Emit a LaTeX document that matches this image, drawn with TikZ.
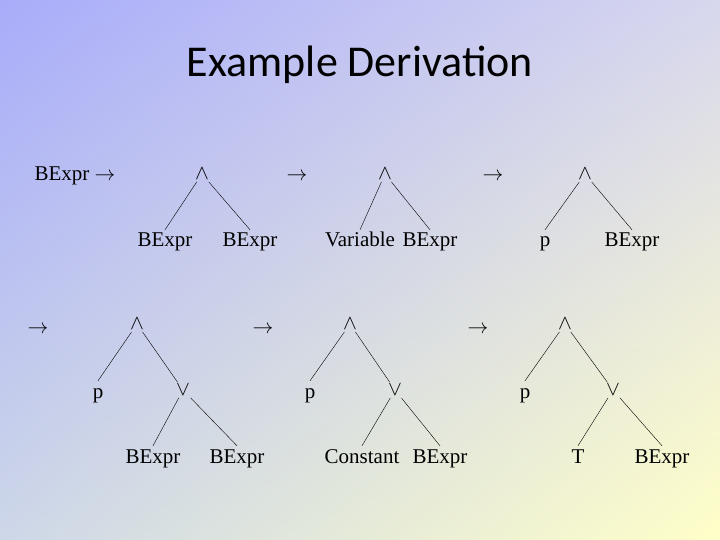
\documentclass[tikz,border=0pt]{standalone}
\usepackage{fontspec}
\setmainfont{Liberation Serif}
\newfontfamily\titlefont{Carlito}
\usepackage{tikz}
\usetikzlibrary{shadings}

\definecolor{bgtl}{RGB}{168,172,250}
\definecolor{bgtr}{RGB}{215,215,238}
\definecolor{bgbl}{RGB}{205,215,232}
\definecolor{bgbr}{RGB}{255,255,200}

\tikzset{
  sym/.style={font=\fontsize{21}{24}\selectfont, inner sep=3pt, text height=14pt, text depth=4pt},
  op/.style={font=\fontsize{21}{24}\selectfont, inner sep=2pt}
}

\begin{document}
\begin{tikzpicture}[x=1pt,y=-1pt]

	\shade[upper left=bgtl, upper right=bgtr, lower left=bgbl, lower right=bgbr] (0,0) rectangle (720,540);
	\useasboundingbox (0,0) rectangle (720,540);

	\node[font=\titlefont\fontsize{44}{48}\selectfont] (title) at (360,65) {Example Derivation};

	% first line
	\node[sym] (r1) at (75,176) {BExpr $\rightarrow$};
	\node[op]  (a1) at (202,174) {$\wedge$};
	\node[sym] (a1l) at (165,242) {BExpr};
	\node[sym] (a1r) at (250,242) {BExpr};
	\node[sym] (r2) at (297,176) {$\rightarrow$};
	\node[op]  (a2) at (385,174) {$\wedge$};
	\node[sym] (a2l) at (360,242) {Variable};
	\node[sym] (a2r) at (430,242) {BExpr};
	\node[sym] (r3) at (493,176) {$\rightarrow$};
	\node[op]  (a3) at (585,174) {$\wedge$};
	\node[sym] (a3l) at (545,242) {p};
	\node[sym] (a3r) at (632,242) {BExpr};
	\draw (a1) -- (a1l.north) (a1) -- (a1r.north);
	\draw (a2) -- (a2l.north) (a2) -- (a2r.north);
	\draw (a3) -- (a3l.north) (a3) -- (a3r.north);

	% second line
	\node[sym] (r4) at (38,328) {$\rightarrow$};
	\node[op]  (b1) at (137,324) {$\wedge$};
	\node[sym] (b1l) at (98,393) {p};
	\node[op]  (o1) at (183,390) {$\vee$};
	\node[sym] (o1l) at (153,458) {BExpr};
	\node[sym] (o1r) at (237,458) {BExpr};
	\node[sym] (r5) at (263,328) {$\rightarrow$};
	\node[op]  (b2) at (350,324) {$\wedge$};
	\node[sym] (b2l) at (310,393) {p};
	\node[op]  (o2) at (395,390) {$\vee$};
	\node[sym] (o2l) at (362,458) {Constant};
	\node[sym] (o2r) at (440,458) {BExpr};
	\node[sym] (r6) at (478,328) {$\rightarrow$};
	\node[op]  (b3) at (565,324) {$\wedge$};
	\node[sym] (b3l) at (525,393) {p};
	\node[op]  (o3) at (613,390) {$\vee$};
	\node[sym] (o3l) at (578,458) {T};
	\node[sym] (o3r) at (662,458) {BExpr};
	\draw (b1) -- (b1l.north) (b1) -- (o1);
	\draw (o1) -- (o1l.north) (o1) -- (o1r.north);
	\draw (b2) -- (b2l.north) (b2) -- (o2);
	\draw (o2) -- (o2l.north) (o2) -- (o2r.north);
	\draw (b3) -- (b3l.north) (b3) -- (o3);
	\draw (o3) -- (o3l.north) (o3) -- (o3r.north);

\end{tikzpicture}
\end{document}
